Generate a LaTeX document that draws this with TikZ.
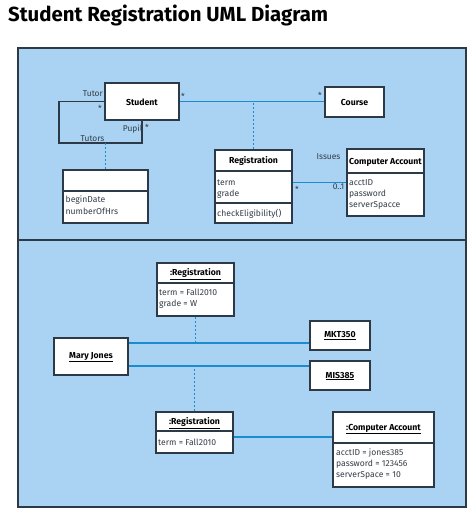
\documentclass[tikz,border=0pt]{standalone}
\usepackage{fontspec}
\setmainfont{Fira Sans}
\definecolor{panelblue}{HTML}{AAD3F3}
\definecolor{linkblue}{HTML}{1A8CD0}
\definecolor{edge}{HTML}{2C3A48}
\definecolor{txt}{HTML}{333C45}
\tikzset{
  box/.style={draw=edge, line width=1.3pt, fill=white, inner sep=0pt},
  divider/.style={draw=edge, line width=1.1pt},
  link/.style={draw=linkblue, line width=1.6pt},
  dotlink/.style={draw=linkblue, line width=1.7pt, dash pattern=on 2.2pt off 1.8pt},
  loop/.style={draw=edge, line width=1.5pt},
  lbl/.style={font=\fontsize{8.4}{10}\selectfont, text=txt, inner sep=0.5pt},
  head/.style={font=\fontsize{8.7}{10}\selectfont\bfseries, text=black, inner sep=0pt},
  attr/.style={font=\fontsize{8.6}{10}\selectfont, text=txt, anchor=base west, inner sep=0pt}
}
\begin{document}
\begin{tikzpicture}[x=1pt,y=-1pt]
\useasboundingbox (0,0) rectangle (474,511);
\fill[white] (0,0) rectangle (474,511);
% title
\node[anchor=base west, inner sep=0pt, font=\fontsize{20.4}{24}\selectfont\bfseries] (title) at (8,21.5) {Student Registration UML Diagram};
% panels
\draw[fill=panelblue, draw=edge, line width=1.4pt] (18,48) rectangle (466,240);
\draw[fill=panelblue, draw=edge, line width=1.4pt] (18,240) rectangle (466,507);

% ---------- top panel ----------
\node[box, minimum width=74pt, minimum height=37pt] (stu) at (142,101.5) {};
\node[head] (stut) at (142,102) {Student};
\node[box, minimum width=59pt, minimum height=30pt] (crs) at (354.5,102) {};
\node[head] (crst) at (354.5,102) {Course};
\node[box, minimum width=85pt, minimum height=53pt] (tut) at (105.5,196.5) {};
\draw[divider] (tut.west |- 0,191) -- (tut.east |- 0,191);
\node[attr] (tuta1) at (65.5,202.5) {beginDate};
\node[attr] (tuta2) at (65.5,214) {numberOfHrs};
\node[box, minimum width=77pt, minimum height=73pt] (reg) at (253.5,186.5) {};
\draw[divider] (reg.west |- 0,171) -- (reg.east |- 0,171);
\draw[divider] (reg.west |- 0,203) -- (reg.east |- 0,203);
\node[head] (regt) at (253.5,161) {Registration};
\node[attr] (rega1) at (217,185) {term};
\node[attr] (rega2) at (217,196.5) {grade};
\node[attr] (regm) at (217,216) {checkEligibility()};
\node[box, minimum width=77pt, minimum height=67pt] (ca) at (385.5,182.5) {};
\draw[divider] (ca.west |- 0,173) -- (ca.east |- 0,173);
\node[head] (cat) at (385.5,162) {Computer Account};
\node[attr] (caa1) at (349,185) {acctID};
\node[attr] (caa2) at (349,196) {password};
\node[attr] (caa3) at (349,207) {serverSpacce};

% links top
\draw[link] (stu.east) -- (crs.west |- stu.east);
\draw[dotlink] (reg.north) -- (reg.north |- stu.east);
\draw[loop] (stu.west) -| (59,143) -| (stu.south);
\draw[dotlink] (tut.north) -- (tut.north |- 0,143);
\draw[link] (reg.east |- ca.west) -- (ca.west);

% labels top
\node[lbl, anchor=east] (l1) at (103.5,94) {Tutor};
\node[lbl] (l2) at (100,108) {*};
\node[lbl, anchor=east] (l3) at (143,129) {Pupil};
\node[lbl] (l4) at (147,127) {*};
\node[lbl] (l5) at (92.5,139) {Tutors};
\node[lbl] (l6) at (183,96) {*};
\node[lbl] (l7) at (320,95) {*};
\node[lbl] (l8) at (328.5,157) {Issues};
\node[lbl] (l9) at (297,189) {*};
\node[lbl, anchor=east] (l10) at (345,187) {0..1};

% ---------- bottom panel ----------
\node[box, minimum width=77pt, minimum height=53pt] (r1) at (195.5,289.5) {};
\draw[divider] (r1.west |- 0,283) -- (r1.east |- 0,283);
\node[head] (r1t) at (195.5,274) {\underline{:Registration}};
\node[attr] (r1a1) at (159,295) {term = Fall2010};
\node[attr] (r1a2) at (159,306) {grade = W};
\node[box, minimum width=74pt, minimum height=37pt] (mj) at (91,356.5) {};
\node[head] (mjt) at (91,357) {\underline{Mary Jones}};
\node[box, minimum width=60pt, minimum height=29pt] (mkt) at (340,335.5) {};
\node[head] (mktt) at (340,336) {\underline{MKT350}};
\node[box, minimum width=60pt, minimum height=29pt] (mis) at (340,375.5) {};
\node[head] (mist) at (340,376) {\underline{MIS385}};
\node[box, minimum width=77pt, minimum height=41pt] (r2) at (194.5,432.5) {};
\draw[divider] (r2.west |- 0,431) -- (r2.east |- 0,431);
\node[head] (r2t) at (194.5,423) {\underline{:Registration}};
\node[attr] (r2a) at (158,445) {term = Fall2010};
\node[box, minimum width=101pt, minimum height=75pt] (ca2) at (383.5,449.5) {};
\draw[divider] (ca2.west |- 0,443) -- (ca2.east |- 0,443);
\node[head] (ca2t) at (383.5,429) {\underline{:Computer Account}};
\node[attr] (ca2a1) at (336,455.5) {acctID = jones385};
\node[attr] (ca2a2) at (336,466.5) {password = 123456};
\node[attr] (ca2a3) at (336,477.5) {serverSpace = 10};

% links bottom
\draw[link] (mj.east |- 0,343) -- (mkt.west |- 0,343);
\draw[link] (mj.east |- 0,366) -- (mis.west |- 0,366);
\draw[dotlink] (r1.south) -- (r1.south |- 0,343);
\draw[dotlink] (r2.north) -- (r2.north |- 0,366);
\draw[link] (r2.east |- 0,437) -- (ca2.west |- 0,437);
\end{tikzpicture}
\end{document}
